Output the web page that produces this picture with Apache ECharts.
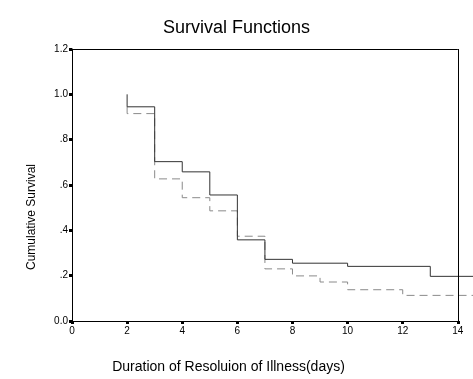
<!DOCTYPE html>
<html><head><meta charset="utf-8">
<script src="https://cdn.jsdelivr.net/npm/echarts@6/dist/echarts.min.js"></script>
<style>html,body{margin:0;padding:0;background:#fff}#c{width:473px;height:379px}</style>
</head><body><div id="c"></div>
<script>
// Step-change times (days) and cumulative survival for the two groups
var solidTimes = [2, 2, 3, 4, 5, 6, 7, 8, 10, 13, 14.55];
var solidSurv  = [1.0, 0.945, 0.703, 0.658, 0.556, 0.358, 0.272, 0.255, 0.241, 0.197, 0.197];
var dashedTimes = [2, 2, 3, 4, 5, 6, 7, 8, 9, 10, 12, 14.55];
var dashedSurv  = [0.945, 0.915, 0.627, 0.544, 0.486, 0.374, 0.23, 0.199, 0.172, 0.138, 0.113, 0.113];
var xTicks = [0, 2, 4, 6, 8, 10, 12, 14];
var xTickLabels = ['0', '2', '4', '6', '8', '10', '12', '14'];
var yTickLabels = ['0.0', '.2', '.4', '.6', '.8', '1.0', '1.2'];
var xFrameMax = 14, yFrameMax = 1.2;

function pairs(xs, ys) { return xs.map(function (x, i) { return [x, ys[i]]; }); }

var font = 'Liberation Sans, Arial, sans-serif';
var chart = echarts.init(document.getElementById('c'));
chart.setOption({
  animation: false,
  backgroundColor: '#fff',
  title: {
    text: 'Survival Functions', left: 'center', top: 14,
    textStyle: { fontFamily: font, fontSize: 18, fontWeight: 'normal', color: '#000' }
  },
  grid: { left: 72, top: 49, right: 0, bottom: 58, show: false, containLabel: false },
  xAxis: {
    type: 'value', min: 0, max: 14.55,
    name: 'Duration of Resoluion of Illness(days)', nameLocation: 'middle', nameGap: 39,
    nameTextStyle: { fontFamily: font, fontSize: 14, color: '#000', padding: [0, 0, 0, -88] },
    axisLine: { show: false },
    axisTick: { show: true, length: 3, customValues: xTicks, lineStyle: { color: '#000', width: 3 } },
    axisLabel: { fontFamily: font, fontSize: 10, color: '#000', margin: 5, customValues: xTicks,
      formatter: function (v) { return xTickLabels[xTicks.indexOf(v)]; } },
    splitLine: { show: false }
  },
  yAxis: {
    type: 'value', min: 0, max: 1.2, interval: 0.2,
    name: 'Cumulative Survival', nameLocation: 'middle', nameGap: 34, nameRotate: 90,
    nameTextStyle: { fontFamily: font, fontSize: 12, color: '#000', padding: [0, 0, 0, -64] },
    axisLine: { show: true, lineStyle: { color: '#000', width: 1 } },
    axisTick: { show: true, length: 3, lineStyle: { color: '#000', width: 3 } },
    axisLabel: { fontFamily: font, fontSize: 10, color: '#000', margin: 4,
      formatter: function (v) { return yTickLabels[Math.round(v / 0.2)]; } },
    splitLine: { show: false }
  },
  series: [
    {
      type: 'line', step: 'end', data: pairs(dashedTimes, dashedSurv), symbol: 'none', clip: false,
      lineStyle: { color: '#8a8a8a', width: 1, type: [8, 5] }, z: 2
    },
    {
      type: 'line', step: 'end', data: pairs(solidTimes, solidSurv), symbol: 'none', clip: false,
      lineStyle: { color: '#333', width: 1 }, z: 3,
      markLine: {
        silent: true, symbol: 'none', animation: false,
        label: { show: false },
        lineStyle: { color: '#000', width: 1, type: 'solid' },
        emphasis: { disabled: true },
        data: [
          [{ coord: [0, yFrameMax] }, { coord: [xFrameMax, yFrameMax] }],
          [{ coord: [xFrameMax, 0] }, { coord: [xFrameMax, yFrameMax] }],
          [{ coord: [0, 0] }, { coord: [xFrameMax, 0] }]
        ]
      }
    }
  ]
});
</script>
</body></html>
